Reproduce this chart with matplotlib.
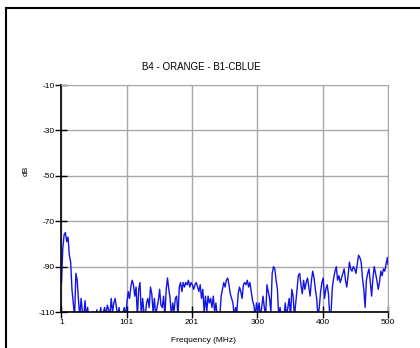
import numpy as np
import matplotlib.pyplot as plt
from matplotlib.lines import Line2D

plt.rcParams['font.family'] = ['Liberation Sans', 'DejaVu Sans']
plt.rcParams['axes.unicode_minus'] = False

# frequency (MHz) every 2 MHz and level (dB)
freq = list(range(1, 500, 2)) + [500]
level = [-97, -82, -76, -75, -79, -77, -85, -88, -100, -106, -112,
         -93, -96, -105, -112, -104, -110, -112, -105, -112, -108,
         -115, -112, -115, -110, -115, -113, -109, -115, -112, -108,
         -115, -110, -108, -112, -107, -109, -112, -104, -110, -106,
         -104, -108, -112, -108, -115, -112, -110, -108, -112, -106,
         -101, -104, -99, -96, -98, -103, -99, -112, -100, -97,
         -112, -104, -110, -112, -106, -104, -108, -99, -102, -110,
         -104, -112, -108, -105, -100, -107, -108, -103, -112, -100,
         -95, -100, -104, -112, -106, -110, -104, -103, -112, -99,
         -97, -101, -97, -99, -97, -98, -96, -99, -97, -98,
         -100, -98, -97, -99, -101, -98, -104, -100, -110, -103,
         -110, -103, -106, -104, -108, -103, -110, -106, -112, -110,
         -112, -103, -100, -97, -99, -96, -95, -98, -102, -104,
         -106, -112, -108, -110, -102, -99, -101, -104, -98, -97,
         -98, -96, -99, -97, -101, -105, -107, -112, -106, -110,
         -106, -112, -108, -103, -108, -112, -98, -101, -104, -110,
         -93, -90, -91, -96, -100, -112, -108, -112, -110, -112,
         -106, -112, -108, -104, -112, -100, -103, -112, -106, -100,
         -94, -93, -98, -102, -96, -100, -97, -95, -99, -103,
         -96, -92, -95, -100, -104, -112, -108, -101, -97, -95,
         -104, -100, -98, -102, -112, -110, -99, -95, -92, -90,
         -96, -94, -97, -95, -93, -91, -96, -99, -94, -88,
         -91, -92, -90, -91, -93, -89, -85, -86, -88, -95,
         -100, -108, -96, -93, -91, -97, -103, -95, -90, -93,
         -96, -100, -97, -92, -94, -91, -92, -89, -86, -89]

xtick_vals = np.linspace(1, 500, 6)
xtick_labels = ['1', '101', '201', '300', '400', '500']
ytick_vals = [-10, -30, -50, -70, -90, -110]

fig = plt.figure(figsize=(4.2, 3.48), dpi=100)
ax = fig.add_axes([0.1464, 0.1034, 0.9238 - 0.1464, 0.7557 - 0.1034])

ax.plot(freq, level, color='#1414e6', linewidth=1.0)

ax.set_xlim(1, 500)
ax.set_ylim(-110, -10)
ax.set_xticks(xtick_vals)
ax.set_xticklabels(xtick_labels)
ax.set_yticks(ytick_vals)
ax.grid(True, color='#a8a8a8', linewidth=1)
ax.set_axisbelow(True)

for side in ['top', 'right']:
    ax.spines[side].set_color('#a8a8a8')
for side in ['left', 'bottom']:
    ax.spines[side].set_color('black')
    ax.spines[side].set_linewidth(1.2)

ax.tick_params(axis='both', labelsize=6, direction='inout', length=8, width=1, pad=1, colors='black')

fig.text(201 / 420, 1 - 67 / 348, 'B4 - ORANGE - B1-CBLUE', fontsize=7, ha='center', va='center')
fig.text(203 / 420, 1 - 340 / 348, 'Frequency (MHz)', fontsize=6, ha='center', va='center')
fig.text(26 / 420, 1 - 171 / 348, 'dB', fontsize=6, ha='center', va='center', rotation=90)

# outer frame of the picture (right and bottom run off the edge)
fig.add_artist(Line2D([6 / 420, 6 / 420], [0, 1 - 8 / 348], color='black', linewidth=1.5))
fig.add_artist(Line2D([6 / 420, 1], [1 - 8 / 348, 1 - 8 / 348], color='black', linewidth=1.5))

fig.savefig('out.png', dpi=100)
